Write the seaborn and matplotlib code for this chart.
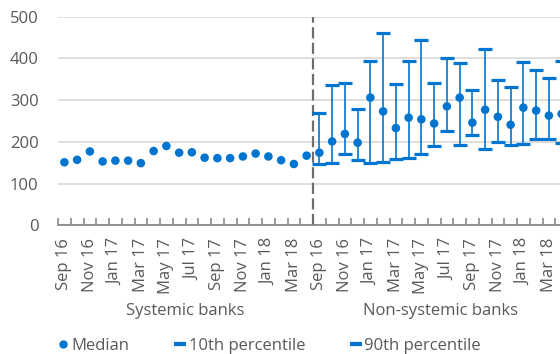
import matplotlib
matplotlib.use("Agg")
import matplotlib.pyplot as plt
from matplotlib.lines import Line2D
import numpy as np
import pandas as pd
import seaborn as sns

# Months covered by each group (Sep 2016 - Apr 2018)
months = ["Sep 16", "Oct 16", "Nov 16", "Dec 16", "Jan 17", "Feb 17", "Mar 17",
          "Apr 17", "May 17", "Jun 17", "Jul 17", "Aug 17", "Sep 17", "Oct 17",
          "Nov 17", "Dec 17", "Jan 18", "Feb 18", "Mar 18", "Apr 18"]
groups = ["Systemic banks", "Non-systemic banks"]

# Systemic banks: median only
systemic_median = [151, 157, 177, 153, 155, 155, 149, 178, 190, 174,
                   175, 162, 161, 161, 165, 172, 165, 156, 147, 167]

# Non-systemic banks: median with 10th / 90th percentile range
nonsys_median = [174, 201, 219, 198, 306, 273, 233, 258, 254, 244,
                 285, 306, 246, 277, 260, 241, 282, 275, 263, 267]
nonsys_p10 = [147, 150, 172, 157, 150, 152, 159, 162, 171, 190,
              226, 192, 216, 184, 200, 193, 194, 208, 206, 197]
nonsys_p90 = [269, 337, 341, 279, 395, 461, 339, 394, 445, 342,
              401, 390, 325, 423, 349, 332, 392, 372, 353, 393]

BLUE = "#0075d0"
GREY_TXT = "#595959"
FONT = ["Open Sans", "DejaVu Sans"]

n = len(months)
sys_df = pd.DataFrame({"pos": np.arange(n), "median": systemic_median})
non_df = pd.DataFrame({"pos": np.arange(n) + n, "median": nonsys_median,
                       "p10": nonsys_p10, "p90": nonsys_p90})

sns.set_style("white")
plt.rcParams["font.family"] = FONT
plt.rcParams["font.size"] = 12

fig = plt.figure(figsize=(5.6, 3.54), dpi=100)
ax = fig.add_axes([58 / 560, (354 - 225.3) / 354, (568 - 58) / 560, (225.3 - 16.7) / 354])

# 10th-90th percentile range lines
ax.vlines(non_df["pos"], non_df["p10"], non_df["p90"], color=BLUE, lw=1.2, zorder=2)

# percentile caps
sns.scatterplot(data=non_df, x="pos", y="p10", marker="_", s=90, linewidths=2.3,
                color=BLUE, ax=ax, zorder=3, legend=False)
sns.scatterplot(data=non_df, x="pos", y="p90", marker="_", s=90, linewidths=2.3,
                color=BLUE, ax=ax, zorder=3, legend=False)

# medians
sns.scatterplot(data=sys_df, x="pos", y="median", s=38, color=BLUE,
                edgecolor="none", ax=ax, zorder=4, legend=False)
sns.scatterplot(data=non_df, x="pos", y="median", s=38, color=BLUE,
                edgecolor="none", ax=ax, zorder=4, legend=False)

# group separator
ax.vlines(n - 0.5, 0, 500, color="#6e6e6e", lw=1.6, linestyles=[(0, (5, 2))], zorder=1)

ax.set_xlim(-0.5, 2 * n - 0.5)
ax.set_ylim(0, 500)
ax.set_yticks([0, 100, 200, 300, 400, 500])
ax.yaxis.grid(True, color="#d9d9d9", lw=1.2)
ax.set_axisbelow(True)
for side in ["top", "right", "left"]:
    ax.spines[side].set_visible(False)
ax.spines["bottom"].set_color("#808080")
ax.spines["bottom"].set_linewidth(1.2)

# month labels every second month, tick marks on category boundaries
label_pos = [i + g * n for g in range(2) for i in range(0, n, 2)]
label_txt = [months[i] for g in range(2) for i in range(0, n, 2)]
ax.set_xticks(label_pos)
ax.set_xticklabels(label_txt, rotation=90, color=GREY_TXT, fontsize=12)
ax.set_xticks(np.arange(-0.5, 2 * n), minor=True)
ax.tick_params(axis="x", which="major", length=0, pad=9)
ax.tick_params(axis="x", which="minor", length=5, width=1.1, direction="in",
               color="#808080", bottom=True)
ax.tick_params(axis="y", length=0, pad=14, labelcolor=GREY_TXT, labelsize=12)
ax.set_xlabel("")
ax.set_ylabel("")

# group labels under the month labels
for g, name in enumerate(groups):
    ax.text(g * n + (n - 1) / 2, -0.41, name, transform=ax.get_xaxis_transform(),
            ha="center", va="center", color=GREY_TXT, fontsize=12, fontfamily=FONT)

# legend
handles = [
    Line2D([], [], ls="none", marker="o", ms=6, color=BLUE, mec="none"),
    Line2D([], [], ls="none", marker="_", ms=8, mew=3, color=BLUE),
    Line2D([], [], ls="none", marker="_", ms=8, mew=3, color=BLUE),
]
leg = fig.legend(handles, ["Median", "10th percentile", "90th percentile"],
                 loc="center left", bbox_to_anchor=(43 / 560, 1 - 346 / 354), ncol=3,
                 frameon=False, fontsize=12, handlelength=0.6, handletextpad=0.2,
                 columnspacing=2.75)
for t in leg.get_texts():
    t.set_color(GREY_TXT)

fig.savefig("out.png", dpi=100)
